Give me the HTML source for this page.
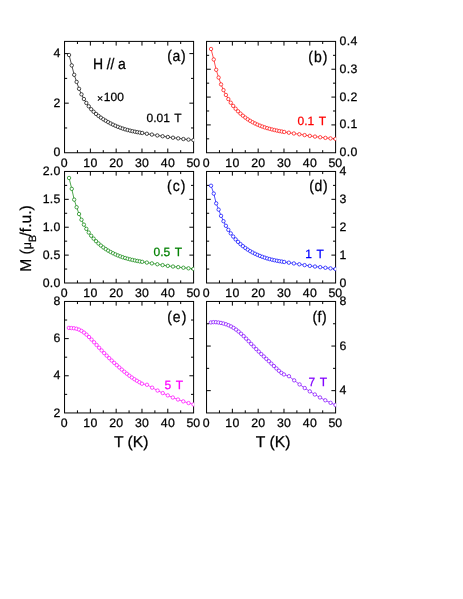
<!DOCTYPE html>
<html><head><meta charset="utf-8"><title>M(T)</title>
<style>
html,body{margin:0;padding:0;background:#fff;}
svg{display:block;will-change:transform;text-rendering:geometricPrecision;font-family:"Liberation Sans",sans-serif;}
</style></head>
<body>
<svg width="463" height="599" viewBox="0 0 463 599">
<rect width="463" height="599" fill="#fff"/>
<rect x="64.55" y="41.40" width="129.05" height="111.35" fill="none" stroke="#000" stroke-width="1.0"/>
<text x="64.25" y="167.00" font-size="12.3" text-anchor="middle" fill="#000" stroke="#000" stroke-width="0.25" letter-spacing="0.3">0</text>
<line x1="77.45" y1="152.75" x2="77.45" y2="150.15" stroke="#000" stroke-width="1.0"/>
<line x1="77.45" y1="41.40" x2="77.45" y2="44.00" stroke="#000" stroke-width="1.0"/>
<line x1="90.36" y1="152.75" x2="90.36" y2="148.55" stroke="#000" stroke-width="1.0"/>
<line x1="90.36" y1="41.40" x2="90.36" y2="45.60" stroke="#000" stroke-width="1.0"/>
<text x="90.51" y="167.00" font-size="12.3" text-anchor="middle" fill="#000" stroke="#000" stroke-width="0.25" letter-spacing="0.3">10</text>
<line x1="103.27" y1="152.75" x2="103.27" y2="150.15" stroke="#000" stroke-width="1.0"/>
<line x1="103.27" y1="41.40" x2="103.27" y2="44.00" stroke="#000" stroke-width="1.0"/>
<line x1="116.17" y1="152.75" x2="116.17" y2="148.55" stroke="#000" stroke-width="1.0"/>
<line x1="116.17" y1="41.40" x2="116.17" y2="45.60" stroke="#000" stroke-width="1.0"/>
<text x="116.32" y="167.00" font-size="12.3" text-anchor="middle" fill="#000" stroke="#000" stroke-width="0.25" letter-spacing="0.3">20</text>
<line x1="129.07" y1="152.75" x2="129.07" y2="150.15" stroke="#000" stroke-width="1.0"/>
<line x1="129.07" y1="41.40" x2="129.07" y2="44.00" stroke="#000" stroke-width="1.0"/>
<line x1="141.98" y1="152.75" x2="141.98" y2="148.55" stroke="#000" stroke-width="1.0"/>
<line x1="141.98" y1="41.40" x2="141.98" y2="45.60" stroke="#000" stroke-width="1.0"/>
<text x="142.13" y="167.00" font-size="12.3" text-anchor="middle" fill="#000" stroke="#000" stroke-width="0.25" letter-spacing="0.3">30</text>
<line x1="154.88" y1="152.75" x2="154.88" y2="150.15" stroke="#000" stroke-width="1.0"/>
<line x1="154.88" y1="41.40" x2="154.88" y2="44.00" stroke="#000" stroke-width="1.0"/>
<line x1="167.79" y1="152.75" x2="167.79" y2="148.55" stroke="#000" stroke-width="1.0"/>
<line x1="167.79" y1="41.40" x2="167.79" y2="45.60" stroke="#000" stroke-width="1.0"/>
<text x="167.94" y="167.00" font-size="12.3" text-anchor="middle" fill="#000" stroke="#000" stroke-width="0.25" letter-spacing="0.3">40</text>
<line x1="180.70" y1="152.75" x2="180.70" y2="150.15" stroke="#000" stroke-width="1.0"/>
<line x1="180.70" y1="41.40" x2="180.70" y2="44.00" stroke="#000" stroke-width="1.0"/>
<text x="193.30" y="167.00" font-size="12.3" text-anchor="middle" fill="#000" stroke="#000" stroke-width="0.25">50</text>
<text x="60.65" y="156.45" font-size="12.3" text-anchor="end" fill="#000" stroke="#000" stroke-width="0.25" letter-spacing="0.3">0</text>
<line x1="64.55" y1="103.17" x2="68.75" y2="103.17" stroke="#000" stroke-width="1.0"/>
<line x1="193.60" y1="103.17" x2="189.40" y2="103.17" stroke="#000" stroke-width="1.0"/>
<text x="60.65" y="106.87" font-size="12.3" text-anchor="end" fill="#000" stroke="#000" stroke-width="0.25" letter-spacing="0.3">2</text>
<line x1="64.55" y1="53.60" x2="68.75" y2="53.60" stroke="#000" stroke-width="1.0"/>
<line x1="193.60" y1="53.60" x2="189.40" y2="53.60" stroke="#000" stroke-width="1.0"/>
<text x="60.65" y="57.30" font-size="12.3" text-anchor="end" fill="#000" stroke="#000" stroke-width="0.25" letter-spacing="0.3">4</text>
<line x1="64.55" y1="127.96" x2="67.15" y2="127.96" stroke="#000" stroke-width="1.0"/>
<line x1="193.60" y1="127.96" x2="191.00" y2="127.96" stroke="#000" stroke-width="1.0"/>
<line x1="64.55" y1="78.38" x2="67.15" y2="78.38" stroke="#000" stroke-width="1.0"/>
<line x1="193.60" y1="78.38" x2="191.00" y2="78.38" stroke="#000" stroke-width="1.0"/>
<clipPath id="cpa"><rect x="64.05" y="40.90" width="130.05" height="112.35"/></clipPath>
<g clip-path="url(#cpa)">
<g stroke="#000000" fill="none" stroke-width="0.7">
<polyline points="69.05,54.99 71.76,65.43 74.19,74.81 76.62,81.93 79.05,88.80 81.48,94.36 83.90,99.02 86.33,102.96 88.76,106.32 91.19,109.22 93.62,111.74 96.05,113.95 98.48,115.91 100.91,117.67 103.34,119.28 105.76,120.77 108.19,122.16 110.62,123.46 113.05,124.67 115.48,125.79 117.91,126.81 120.34,127.74 122.77,128.58 125.20,129.34 127.63,130.02 130.05,130.64 132.48,131.19 134.91,131.69 137.34,132.15 139.77,132.58 142.20,132.99 146.85,133.75 151.89,134.58 157.32,135.45 162.61,136.25 167.81,136.99 173.00,137.70 178.19,138.38 183.41,139.03 188.50,139.61 193.49,140.11"/>
</g>
<g stroke="#000000" fill="#fff" stroke-width="0.7">
<circle cx="69.05" cy="54.99" r="1.7"/>
<circle cx="71.76" cy="65.43" r="1.7"/>
<circle cx="74.19" cy="74.81" r="1.7"/>
<circle cx="76.62" cy="81.93" r="1.7"/>
<circle cx="79.05" cy="88.80" r="1.7"/>
<circle cx="81.48" cy="94.36" r="1.7"/>
<circle cx="83.90" cy="99.02" r="1.7"/>
<circle cx="86.33" cy="102.96" r="1.7"/>
<circle cx="88.76" cy="106.32" r="1.7"/>
<circle cx="91.19" cy="109.22" r="1.7"/>
<circle cx="93.62" cy="111.74" r="1.7"/>
<circle cx="96.05" cy="113.95" r="1.7"/>
<circle cx="98.48" cy="115.91" r="1.7"/>
<circle cx="100.91" cy="117.67" r="1.7"/>
<circle cx="103.34" cy="119.28" r="1.7"/>
<circle cx="105.76" cy="120.77" r="1.7"/>
<circle cx="108.19" cy="122.16" r="1.7"/>
<circle cx="110.62" cy="123.46" r="1.7"/>
<circle cx="113.05" cy="124.67" r="1.7"/>
<circle cx="115.48" cy="125.79" r="1.7"/>
<circle cx="117.91" cy="126.81" r="1.7"/>
<circle cx="120.34" cy="127.74" r="1.7"/>
<circle cx="122.77" cy="128.58" r="1.7"/>
<circle cx="125.20" cy="129.34" r="1.7"/>
<circle cx="127.63" cy="130.02" r="1.7"/>
<circle cx="130.05" cy="130.64" r="1.7"/>
<circle cx="132.48" cy="131.19" r="1.7"/>
<circle cx="134.91" cy="131.69" r="1.7"/>
<circle cx="137.34" cy="132.15" r="1.7"/>
<circle cx="139.77" cy="132.58" r="1.7"/>
<circle cx="142.20" cy="132.99" r="1.7"/>
<circle cx="146.85" cy="133.75" r="1.7"/>
<circle cx="151.89" cy="134.58" r="1.7"/>
<circle cx="157.32" cy="135.45" r="1.7"/>
<circle cx="162.61" cy="136.25" r="1.7"/>
<circle cx="167.81" cy="136.99" r="1.7"/>
<circle cx="173.00" cy="137.70" r="1.7"/>
<circle cx="178.19" cy="138.38" r="1.7"/>
<circle cx="183.41" cy="139.03" r="1.7"/>
<circle cx="188.50" cy="139.61" r="1.7"/>
<circle cx="193.49" cy="140.11" r="1.7"/>
</g></g>
<rect x="206.55" y="41.40" width="129.05" height="111.35" fill="none" stroke="#000" stroke-width="1.0"/>
<text x="206.25" y="167.00" font-size="12.3" text-anchor="middle" fill="#000" stroke="#000" stroke-width="0.25" letter-spacing="0.3">0</text>
<line x1="219.46" y1="152.75" x2="219.46" y2="150.15" stroke="#000" stroke-width="1.0"/>
<line x1="219.46" y1="41.40" x2="219.46" y2="44.00" stroke="#000" stroke-width="1.0"/>
<line x1="232.36" y1="152.75" x2="232.36" y2="148.55" stroke="#000" stroke-width="1.0"/>
<line x1="232.36" y1="41.40" x2="232.36" y2="45.60" stroke="#000" stroke-width="1.0"/>
<text x="232.51" y="167.00" font-size="12.3" text-anchor="middle" fill="#000" stroke="#000" stroke-width="0.25" letter-spacing="0.3">10</text>
<line x1="245.27" y1="152.75" x2="245.27" y2="150.15" stroke="#000" stroke-width="1.0"/>
<line x1="245.27" y1="41.40" x2="245.27" y2="44.00" stroke="#000" stroke-width="1.0"/>
<line x1="258.17" y1="152.75" x2="258.17" y2="148.55" stroke="#000" stroke-width="1.0"/>
<line x1="258.17" y1="41.40" x2="258.17" y2="45.60" stroke="#000" stroke-width="1.0"/>
<text x="258.32" y="167.00" font-size="12.3" text-anchor="middle" fill="#000" stroke="#000" stroke-width="0.25" letter-spacing="0.3">20</text>
<line x1="271.08" y1="152.75" x2="271.08" y2="150.15" stroke="#000" stroke-width="1.0"/>
<line x1="271.08" y1="41.40" x2="271.08" y2="44.00" stroke="#000" stroke-width="1.0"/>
<line x1="283.98" y1="152.75" x2="283.98" y2="148.55" stroke="#000" stroke-width="1.0"/>
<line x1="283.98" y1="41.40" x2="283.98" y2="45.60" stroke="#000" stroke-width="1.0"/>
<text x="284.13" y="167.00" font-size="12.3" text-anchor="middle" fill="#000" stroke="#000" stroke-width="0.25" letter-spacing="0.3">30</text>
<line x1="296.88" y1="152.75" x2="296.88" y2="150.15" stroke="#000" stroke-width="1.0"/>
<line x1="296.88" y1="41.40" x2="296.88" y2="44.00" stroke="#000" stroke-width="1.0"/>
<line x1="309.79" y1="152.75" x2="309.79" y2="148.55" stroke="#000" stroke-width="1.0"/>
<line x1="309.79" y1="41.40" x2="309.79" y2="45.60" stroke="#000" stroke-width="1.0"/>
<text x="309.94" y="167.00" font-size="12.3" text-anchor="middle" fill="#000" stroke="#000" stroke-width="0.25" letter-spacing="0.3">40</text>
<line x1="322.70" y1="152.75" x2="322.70" y2="150.15" stroke="#000" stroke-width="1.0"/>
<line x1="322.70" y1="41.40" x2="322.70" y2="44.00" stroke="#000" stroke-width="1.0"/>
<text x="335.30" y="167.00" font-size="12.3" text-anchor="middle" fill="#000" stroke="#000" stroke-width="0.25">50</text>
<text x="339.60" y="156.25" font-size="12.3" text-anchor="start" fill="#000" stroke="#000" stroke-width="0.25" letter-spacing="0.3">0.0</text>
<line x1="206.55" y1="124.91" x2="210.75" y2="124.91" stroke="#000" stroke-width="1.0"/>
<line x1="335.60" y1="124.91" x2="331.40" y2="124.91" stroke="#000" stroke-width="1.0"/>
<text x="339.60" y="128.41" font-size="12.3" text-anchor="start" fill="#000" stroke="#000" stroke-width="0.25" letter-spacing="0.3">0.1</text>
<line x1="206.55" y1="97.08" x2="210.75" y2="97.08" stroke="#000" stroke-width="1.0"/>
<line x1="335.60" y1="97.08" x2="331.40" y2="97.08" stroke="#000" stroke-width="1.0"/>
<text x="339.60" y="100.58" font-size="12.3" text-anchor="start" fill="#000" stroke="#000" stroke-width="0.25" letter-spacing="0.3">0.2</text>
<line x1="206.55" y1="69.24" x2="210.75" y2="69.24" stroke="#000" stroke-width="1.0"/>
<line x1="335.60" y1="69.24" x2="331.40" y2="69.24" stroke="#000" stroke-width="1.0"/>
<text x="339.60" y="72.74" font-size="12.3" text-anchor="start" fill="#000" stroke="#000" stroke-width="0.25" letter-spacing="0.3">0.3</text>
<text x="339.60" y="44.90" font-size="12.3" text-anchor="start" fill="#000" stroke="#000" stroke-width="0.25" letter-spacing="0.3">0.4</text>
<line x1="206.55" y1="138.83" x2="209.15" y2="138.83" stroke="#000" stroke-width="1.0"/>
<line x1="335.60" y1="138.83" x2="333.00" y2="138.83" stroke="#000" stroke-width="1.0"/>
<line x1="206.55" y1="110.99" x2="209.15" y2="110.99" stroke="#000" stroke-width="1.0"/>
<line x1="335.60" y1="110.99" x2="333.00" y2="110.99" stroke="#000" stroke-width="1.0"/>
<line x1="206.55" y1="83.16" x2="209.15" y2="83.16" stroke="#000" stroke-width="1.0"/>
<line x1="335.60" y1="83.16" x2="333.00" y2="83.16" stroke="#000" stroke-width="1.0"/>
<line x1="206.55" y1="55.32" x2="209.15" y2="55.32" stroke="#000" stroke-width="1.0"/>
<line x1="335.60" y1="55.32" x2="333.00" y2="55.32" stroke="#000" stroke-width="1.0"/>
<clipPath id="cpb"><rect x="206.05" y="40.90" width="130.05" height="112.35"/></clipPath>
<g clip-path="url(#cpb)">
<g stroke="#ff0000" fill="none" stroke-width="0.7">
<polyline points="211.05,48.98 213.76,59.48 216.19,69.80 218.62,77.55 221.05,84.41 223.48,90.11 225.90,94.94 228.33,99.09 230.76,102.71 233.19,105.90 235.62,108.74 238.05,111.31 240.48,113.62 242.91,115.72 245.34,117.60 247.76,119.31 250.19,120.85 252.62,122.24 255.05,123.49 257.48,124.62 259.91,125.64 262.34,126.56 264.77,127.39 267.20,128.14 269.63,128.83 272.05,129.45 274.48,130.03 276.91,130.57 279.34,131.06 281.77,131.52 284.20,131.95 288.85,132.71 293.89,133.48 299.32,134.29 304.61,135.10 309.81,135.87 315.00,136.59 320.19,137.26 325.41,137.87 330.50,138.41 335.49,138.89"/>
</g>
<g stroke="#ff0000" fill="#fff" stroke-width="0.7">
<circle cx="211.05" cy="48.98" r="1.7"/>
<circle cx="213.76" cy="59.48" r="1.7"/>
<circle cx="216.19" cy="69.80" r="1.7"/>
<circle cx="218.62" cy="77.55" r="1.7"/>
<circle cx="221.05" cy="84.41" r="1.7"/>
<circle cx="223.48" cy="90.11" r="1.7"/>
<circle cx="225.90" cy="94.94" r="1.7"/>
<circle cx="228.33" cy="99.09" r="1.7"/>
<circle cx="230.76" cy="102.71" r="1.7"/>
<circle cx="233.19" cy="105.90" r="1.7"/>
<circle cx="235.62" cy="108.74" r="1.7"/>
<circle cx="238.05" cy="111.31" r="1.7"/>
<circle cx="240.48" cy="113.62" r="1.7"/>
<circle cx="242.91" cy="115.72" r="1.7"/>
<circle cx="245.34" cy="117.60" r="1.7"/>
<circle cx="247.76" cy="119.31" r="1.7"/>
<circle cx="250.19" cy="120.85" r="1.7"/>
<circle cx="252.62" cy="122.24" r="1.7"/>
<circle cx="255.05" cy="123.49" r="1.7"/>
<circle cx="257.48" cy="124.62" r="1.7"/>
<circle cx="259.91" cy="125.64" r="1.7"/>
<circle cx="262.34" cy="126.56" r="1.7"/>
<circle cx="264.77" cy="127.39" r="1.7"/>
<circle cx="267.20" cy="128.14" r="1.7"/>
<circle cx="269.63" cy="128.83" r="1.7"/>
<circle cx="272.05" cy="129.45" r="1.7"/>
<circle cx="274.48" cy="130.03" r="1.7"/>
<circle cx="276.91" cy="130.57" r="1.7"/>
<circle cx="279.34" cy="131.06" r="1.7"/>
<circle cx="281.77" cy="131.52" r="1.7"/>
<circle cx="284.20" cy="131.95" r="1.7"/>
<circle cx="288.85" cy="132.71" r="1.7"/>
<circle cx="293.89" cy="133.48" r="1.7"/>
<circle cx="299.32" cy="134.29" r="1.7"/>
<circle cx="304.61" cy="135.10" r="1.7"/>
<circle cx="309.81" cy="135.87" r="1.7"/>
<circle cx="315.00" cy="136.59" r="1.7"/>
<circle cx="320.19" cy="137.26" r="1.7"/>
<circle cx="325.41" cy="137.87" r="1.7"/>
<circle cx="330.50" cy="138.41" r="1.7"/>
<circle cx="335.49" cy="138.89" r="1.7"/>
</g></g>
<rect x="64.55" y="171.45" width="129.05" height="111.55" fill="none" stroke="#000" stroke-width="1.0"/>
<text x="64.25" y="297.00" font-size="12.3" text-anchor="middle" fill="#000" stroke="#000" stroke-width="0.25" letter-spacing="0.3">0</text>
<line x1="77.45" y1="283.00" x2="77.45" y2="280.40" stroke="#000" stroke-width="1.0"/>
<line x1="77.45" y1="171.45" x2="77.45" y2="174.05" stroke="#000" stroke-width="1.0"/>
<line x1="90.36" y1="283.00" x2="90.36" y2="278.80" stroke="#000" stroke-width="1.0"/>
<line x1="90.36" y1="171.45" x2="90.36" y2="175.65" stroke="#000" stroke-width="1.0"/>
<text x="90.51" y="297.00" font-size="12.3" text-anchor="middle" fill="#000" stroke="#000" stroke-width="0.25" letter-spacing="0.3">10</text>
<line x1="103.27" y1="283.00" x2="103.27" y2="280.40" stroke="#000" stroke-width="1.0"/>
<line x1="103.27" y1="171.45" x2="103.27" y2="174.05" stroke="#000" stroke-width="1.0"/>
<line x1="116.17" y1="283.00" x2="116.17" y2="278.80" stroke="#000" stroke-width="1.0"/>
<line x1="116.17" y1="171.45" x2="116.17" y2="175.65" stroke="#000" stroke-width="1.0"/>
<text x="116.32" y="297.00" font-size="12.3" text-anchor="middle" fill="#000" stroke="#000" stroke-width="0.25" letter-spacing="0.3">20</text>
<line x1="129.07" y1="283.00" x2="129.07" y2="280.40" stroke="#000" stroke-width="1.0"/>
<line x1="129.07" y1="171.45" x2="129.07" y2="174.05" stroke="#000" stroke-width="1.0"/>
<line x1="141.98" y1="283.00" x2="141.98" y2="278.80" stroke="#000" stroke-width="1.0"/>
<line x1="141.98" y1="171.45" x2="141.98" y2="175.65" stroke="#000" stroke-width="1.0"/>
<text x="142.13" y="297.00" font-size="12.3" text-anchor="middle" fill="#000" stroke="#000" stroke-width="0.25" letter-spacing="0.3">30</text>
<line x1="154.88" y1="283.00" x2="154.88" y2="280.40" stroke="#000" stroke-width="1.0"/>
<line x1="154.88" y1="171.45" x2="154.88" y2="174.05" stroke="#000" stroke-width="1.0"/>
<line x1="167.79" y1="283.00" x2="167.79" y2="278.80" stroke="#000" stroke-width="1.0"/>
<line x1="167.79" y1="171.45" x2="167.79" y2="175.65" stroke="#000" stroke-width="1.0"/>
<text x="167.94" y="297.00" font-size="12.3" text-anchor="middle" fill="#000" stroke="#000" stroke-width="0.25" letter-spacing="0.3">40</text>
<line x1="180.70" y1="283.00" x2="180.70" y2="280.40" stroke="#000" stroke-width="1.0"/>
<line x1="180.70" y1="171.45" x2="180.70" y2="174.05" stroke="#000" stroke-width="1.0"/>
<text x="193.30" y="297.00" font-size="12.3" text-anchor="middle" fill="#000" stroke="#000" stroke-width="0.25">50</text>
<text x="60.65" y="286.70" font-size="12.3" text-anchor="end" fill="#000" stroke="#000" stroke-width="0.25" letter-spacing="0.3">0.0</text>
<line x1="64.55" y1="255.11" x2="68.75" y2="255.11" stroke="#000" stroke-width="1.0"/>
<line x1="193.60" y1="255.11" x2="189.40" y2="255.11" stroke="#000" stroke-width="1.0"/>
<text x="60.65" y="258.81" font-size="12.3" text-anchor="end" fill="#000" stroke="#000" stroke-width="0.25" letter-spacing="0.3">0.5</text>
<line x1="64.55" y1="227.22" x2="68.75" y2="227.22" stroke="#000" stroke-width="1.0"/>
<line x1="193.60" y1="227.22" x2="189.40" y2="227.22" stroke="#000" stroke-width="1.0"/>
<text x="60.65" y="230.92" font-size="12.3" text-anchor="end" fill="#000" stroke="#000" stroke-width="0.25" letter-spacing="0.3">1.0</text>
<line x1="64.55" y1="199.34" x2="68.75" y2="199.34" stroke="#000" stroke-width="1.0"/>
<line x1="193.60" y1="199.34" x2="189.40" y2="199.34" stroke="#000" stroke-width="1.0"/>
<text x="60.65" y="203.04" font-size="12.3" text-anchor="end" fill="#000" stroke="#000" stroke-width="0.25" letter-spacing="0.3">1.5</text>
<text x="60.65" y="175.15" font-size="12.3" text-anchor="end" fill="#000" stroke="#000" stroke-width="0.25" letter-spacing="0.3">2.0</text>
<line x1="64.55" y1="269.06" x2="67.15" y2="269.06" stroke="#000" stroke-width="1.0"/>
<line x1="193.60" y1="269.06" x2="191.00" y2="269.06" stroke="#000" stroke-width="1.0"/>
<line x1="64.55" y1="241.17" x2="67.15" y2="241.17" stroke="#000" stroke-width="1.0"/>
<line x1="193.60" y1="241.17" x2="191.00" y2="241.17" stroke="#000" stroke-width="1.0"/>
<line x1="64.55" y1="213.28" x2="67.15" y2="213.28" stroke="#000" stroke-width="1.0"/>
<line x1="193.60" y1="213.28" x2="191.00" y2="213.28" stroke="#000" stroke-width="1.0"/>
<line x1="64.55" y1="185.39" x2="67.15" y2="185.39" stroke="#000" stroke-width="1.0"/>
<line x1="193.60" y1="185.39" x2="191.00" y2="185.39" stroke="#000" stroke-width="1.0"/>
<clipPath id="cpc"><rect x="64.05" y="170.95" width="130.05" height="112.55"/></clipPath>
<g clip-path="url(#cpc)">
<g stroke="#008000" fill="none" stroke-width="0.7">
<polyline points="69.05,177.96 71.76,188.87 74.19,199.64 76.62,207.22 79.05,214.03 81.48,219.76 83.90,224.65 86.33,228.86 88.76,232.54 91.19,235.77 93.62,238.63 96.05,241.20 98.48,243.50 100.91,245.56 103.34,247.43 105.76,249.11 108.19,250.63 110.62,252.01 113.05,253.27 115.48,254.41 117.91,255.45 120.34,256.39 122.77,257.25 125.20,258.03 127.63,258.73 130.05,259.37 132.48,259.95 134.91,260.47 137.34,260.96 139.77,261.40 142.20,261.83 146.85,262.58 151.89,263.39 157.32,264.27 162.61,265.12 167.81,265.88 173.00,266.54 178.19,267.15 183.41,267.73 188.50,268.31 193.49,268.90"/>
</g>
<g stroke="#008000" fill="#fff" stroke-width="0.7">
<circle cx="69.05" cy="177.96" r="1.7"/>
<circle cx="71.76" cy="188.87" r="1.7"/>
<circle cx="74.19" cy="199.64" r="1.7"/>
<circle cx="76.62" cy="207.22" r="1.7"/>
<circle cx="79.05" cy="214.03" r="1.7"/>
<circle cx="81.48" cy="219.76" r="1.7"/>
<circle cx="83.90" cy="224.65" r="1.7"/>
<circle cx="86.33" cy="228.86" r="1.7"/>
<circle cx="88.76" cy="232.54" r="1.7"/>
<circle cx="91.19" cy="235.77" r="1.7"/>
<circle cx="93.62" cy="238.63" r="1.7"/>
<circle cx="96.05" cy="241.20" r="1.7"/>
<circle cx="98.48" cy="243.50" r="1.7"/>
<circle cx="100.91" cy="245.56" r="1.7"/>
<circle cx="103.34" cy="247.43" r="1.7"/>
<circle cx="105.76" cy="249.11" r="1.7"/>
<circle cx="108.19" cy="250.63" r="1.7"/>
<circle cx="110.62" cy="252.01" r="1.7"/>
<circle cx="113.05" cy="253.27" r="1.7"/>
<circle cx="115.48" cy="254.41" r="1.7"/>
<circle cx="117.91" cy="255.45" r="1.7"/>
<circle cx="120.34" cy="256.39" r="1.7"/>
<circle cx="122.77" cy="257.25" r="1.7"/>
<circle cx="125.20" cy="258.03" r="1.7"/>
<circle cx="127.63" cy="258.73" r="1.7"/>
<circle cx="130.05" cy="259.37" r="1.7"/>
<circle cx="132.48" cy="259.95" r="1.7"/>
<circle cx="134.91" cy="260.47" r="1.7"/>
<circle cx="137.34" cy="260.96" r="1.7"/>
<circle cx="139.77" cy="261.40" r="1.7"/>
<circle cx="142.20" cy="261.83" r="1.7"/>
<circle cx="146.85" cy="262.58" r="1.7"/>
<circle cx="151.89" cy="263.39" r="1.7"/>
<circle cx="157.32" cy="264.27" r="1.7"/>
<circle cx="162.61" cy="265.12" r="1.7"/>
<circle cx="167.81" cy="265.88" r="1.7"/>
<circle cx="173.00" cy="266.54" r="1.7"/>
<circle cx="178.19" cy="267.15" r="1.7"/>
<circle cx="183.41" cy="267.73" r="1.7"/>
<circle cx="188.50" cy="268.31" r="1.7"/>
<circle cx="193.49" cy="268.90" r="1.7"/>
</g></g>
<rect x="206.55" y="171.45" width="129.05" height="111.55" fill="none" stroke="#000" stroke-width="1.0"/>
<text x="206.25" y="297.00" font-size="12.3" text-anchor="middle" fill="#000" stroke="#000" stroke-width="0.25" letter-spacing="0.3">0</text>
<line x1="219.46" y1="283.00" x2="219.46" y2="280.40" stroke="#000" stroke-width="1.0"/>
<line x1="219.46" y1="171.45" x2="219.46" y2="174.05" stroke="#000" stroke-width="1.0"/>
<line x1="232.36" y1="283.00" x2="232.36" y2="278.80" stroke="#000" stroke-width="1.0"/>
<line x1="232.36" y1="171.45" x2="232.36" y2="175.65" stroke="#000" stroke-width="1.0"/>
<text x="232.51" y="297.00" font-size="12.3" text-anchor="middle" fill="#000" stroke="#000" stroke-width="0.25" letter-spacing="0.3">10</text>
<line x1="245.27" y1="283.00" x2="245.27" y2="280.40" stroke="#000" stroke-width="1.0"/>
<line x1="245.27" y1="171.45" x2="245.27" y2="174.05" stroke="#000" stroke-width="1.0"/>
<line x1="258.17" y1="283.00" x2="258.17" y2="278.80" stroke="#000" stroke-width="1.0"/>
<line x1="258.17" y1="171.45" x2="258.17" y2="175.65" stroke="#000" stroke-width="1.0"/>
<text x="258.32" y="297.00" font-size="12.3" text-anchor="middle" fill="#000" stroke="#000" stroke-width="0.25" letter-spacing="0.3">20</text>
<line x1="271.08" y1="283.00" x2="271.08" y2="280.40" stroke="#000" stroke-width="1.0"/>
<line x1="271.08" y1="171.45" x2="271.08" y2="174.05" stroke="#000" stroke-width="1.0"/>
<line x1="283.98" y1="283.00" x2="283.98" y2="278.80" stroke="#000" stroke-width="1.0"/>
<line x1="283.98" y1="171.45" x2="283.98" y2="175.65" stroke="#000" stroke-width="1.0"/>
<text x="284.13" y="297.00" font-size="12.3" text-anchor="middle" fill="#000" stroke="#000" stroke-width="0.25" letter-spacing="0.3">30</text>
<line x1="296.88" y1="283.00" x2="296.88" y2="280.40" stroke="#000" stroke-width="1.0"/>
<line x1="296.88" y1="171.45" x2="296.88" y2="174.05" stroke="#000" stroke-width="1.0"/>
<line x1="309.79" y1="283.00" x2="309.79" y2="278.80" stroke="#000" stroke-width="1.0"/>
<line x1="309.79" y1="171.45" x2="309.79" y2="175.65" stroke="#000" stroke-width="1.0"/>
<text x="309.94" y="297.00" font-size="12.3" text-anchor="middle" fill="#000" stroke="#000" stroke-width="0.25" letter-spacing="0.3">40</text>
<line x1="322.70" y1="283.00" x2="322.70" y2="280.40" stroke="#000" stroke-width="1.0"/>
<line x1="322.70" y1="171.45" x2="322.70" y2="174.05" stroke="#000" stroke-width="1.0"/>
<text x="335.30" y="297.00" font-size="12.3" text-anchor="middle" fill="#000" stroke="#000" stroke-width="0.25">50</text>
<text x="339.60" y="286.50" font-size="12.3" text-anchor="start" fill="#000" stroke="#000" stroke-width="0.25" letter-spacing="0.3">0</text>
<line x1="206.55" y1="255.11" x2="210.75" y2="255.11" stroke="#000" stroke-width="1.0"/>
<line x1="335.60" y1="255.11" x2="331.40" y2="255.11" stroke="#000" stroke-width="1.0"/>
<text x="339.60" y="258.61" font-size="12.3" text-anchor="start" fill="#000" stroke="#000" stroke-width="0.25" letter-spacing="0.3">1</text>
<line x1="206.55" y1="227.22" x2="210.75" y2="227.22" stroke="#000" stroke-width="1.0"/>
<line x1="335.60" y1="227.22" x2="331.40" y2="227.22" stroke="#000" stroke-width="1.0"/>
<text x="339.60" y="230.72" font-size="12.3" text-anchor="start" fill="#000" stroke="#000" stroke-width="0.25" letter-spacing="0.3">2</text>
<line x1="206.55" y1="199.34" x2="210.75" y2="199.34" stroke="#000" stroke-width="1.0"/>
<line x1="335.60" y1="199.34" x2="331.40" y2="199.34" stroke="#000" stroke-width="1.0"/>
<text x="339.60" y="202.84" font-size="12.3" text-anchor="start" fill="#000" stroke="#000" stroke-width="0.25" letter-spacing="0.3">3</text>
<text x="339.60" y="174.95" font-size="12.3" text-anchor="start" fill="#000" stroke="#000" stroke-width="0.25" letter-spacing="0.3">4</text>
<line x1="206.55" y1="269.06" x2="209.15" y2="269.06" stroke="#000" stroke-width="1.0"/>
<line x1="335.60" y1="269.06" x2="333.00" y2="269.06" stroke="#000" stroke-width="1.0"/>
<line x1="206.55" y1="241.17" x2="209.15" y2="241.17" stroke="#000" stroke-width="1.0"/>
<line x1="335.60" y1="241.17" x2="333.00" y2="241.17" stroke="#000" stroke-width="1.0"/>
<line x1="206.55" y1="213.28" x2="209.15" y2="213.28" stroke="#000" stroke-width="1.0"/>
<line x1="335.60" y1="213.28" x2="333.00" y2="213.28" stroke="#000" stroke-width="1.0"/>
<line x1="206.55" y1="185.39" x2="209.15" y2="185.39" stroke="#000" stroke-width="1.0"/>
<line x1="335.60" y1="185.39" x2="333.00" y2="185.39" stroke="#000" stroke-width="1.0"/>
<clipPath id="cpd"><rect x="206.05" y="170.95" width="130.05" height="112.55"/></clipPath>
<g clip-path="url(#cpd)">
<g stroke="#0000ff" fill="none" stroke-width="0.7">
<polyline points="211.05,185.74 213.76,193.58 216.19,203.38 218.62,209.61 221.05,215.85 223.48,221.19 225.90,225.81 228.33,229.85 230.76,233.40 233.19,236.55 235.62,239.35 238.05,241.87 240.48,244.13 242.91,246.16 245.34,248.00 247.76,249.66 250.19,251.16 252.62,252.53 255.05,253.76 257.48,254.89 259.91,255.91 262.34,256.83 264.77,257.67 267.20,258.43 269.63,259.11 272.05,259.72 274.48,260.25 276.91,260.73 279.34,261.17 281.77,261.57 284.20,261.96 288.85,262.67 293.89,263.44 299.32,264.30 304.61,265.13 309.81,265.88 315.00,266.54 320.19,267.16 325.41,267.78 330.50,268.40 335.49,269.04"/>
</g>
<g stroke="#0000ff" fill="#fff" stroke-width="0.7">
<circle cx="211.05" cy="185.74" r="1.7"/>
<circle cx="213.76" cy="193.58" r="1.7"/>
<circle cx="216.19" cy="203.38" r="1.7"/>
<circle cx="218.62" cy="209.61" r="1.7"/>
<circle cx="221.05" cy="215.85" r="1.7"/>
<circle cx="223.48" cy="221.19" r="1.7"/>
<circle cx="225.90" cy="225.81" r="1.7"/>
<circle cx="228.33" cy="229.85" r="1.7"/>
<circle cx="230.76" cy="233.40" r="1.7"/>
<circle cx="233.19" cy="236.55" r="1.7"/>
<circle cx="235.62" cy="239.35" r="1.7"/>
<circle cx="238.05" cy="241.87" r="1.7"/>
<circle cx="240.48" cy="244.13" r="1.7"/>
<circle cx="242.91" cy="246.16" r="1.7"/>
<circle cx="245.34" cy="248.00" r="1.7"/>
<circle cx="247.76" cy="249.66" r="1.7"/>
<circle cx="250.19" cy="251.16" r="1.7"/>
<circle cx="252.62" cy="252.53" r="1.7"/>
<circle cx="255.05" cy="253.76" r="1.7"/>
<circle cx="257.48" cy="254.89" r="1.7"/>
<circle cx="259.91" cy="255.91" r="1.7"/>
<circle cx="262.34" cy="256.83" r="1.7"/>
<circle cx="264.77" cy="257.67" r="1.7"/>
<circle cx="267.20" cy="258.43" r="1.7"/>
<circle cx="269.63" cy="259.11" r="1.7"/>
<circle cx="272.05" cy="259.72" r="1.7"/>
<circle cx="274.48" cy="260.25" r="1.7"/>
<circle cx="276.91" cy="260.73" r="1.7"/>
<circle cx="279.34" cy="261.17" r="1.7"/>
<circle cx="281.77" cy="261.57" r="1.7"/>
<circle cx="284.20" cy="261.96" r="1.7"/>
<circle cx="288.85" cy="262.67" r="1.7"/>
<circle cx="293.89" cy="263.44" r="1.7"/>
<circle cx="299.32" cy="264.30" r="1.7"/>
<circle cx="304.61" cy="265.13" r="1.7"/>
<circle cx="309.81" cy="265.88" r="1.7"/>
<circle cx="315.00" cy="266.54" r="1.7"/>
<circle cx="320.19" cy="267.16" r="1.7"/>
<circle cx="325.41" cy="267.78" r="1.7"/>
<circle cx="330.50" cy="268.40" r="1.7"/>
<circle cx="335.49" cy="269.04" r="1.7"/>
</g></g>
<rect x="64.55" y="301.45" width="129.05" height="111.50" fill="none" stroke="#000" stroke-width="1.0"/>
<text x="64.25" y="427.20" font-size="12.3" text-anchor="middle" fill="#000" stroke="#000" stroke-width="0.25" letter-spacing="0.3">0</text>
<line x1="77.45" y1="412.95" x2="77.45" y2="410.35" stroke="#000" stroke-width="1.0"/>
<line x1="77.45" y1="301.45" x2="77.45" y2="304.05" stroke="#000" stroke-width="1.0"/>
<line x1="90.36" y1="412.95" x2="90.36" y2="408.75" stroke="#000" stroke-width="1.0"/>
<line x1="90.36" y1="301.45" x2="90.36" y2="305.65" stroke="#000" stroke-width="1.0"/>
<text x="90.51" y="427.20" font-size="12.3" text-anchor="middle" fill="#000" stroke="#000" stroke-width="0.25" letter-spacing="0.3">10</text>
<line x1="103.27" y1="412.95" x2="103.27" y2="410.35" stroke="#000" stroke-width="1.0"/>
<line x1="103.27" y1="301.45" x2="103.27" y2="304.05" stroke="#000" stroke-width="1.0"/>
<line x1="116.17" y1="412.95" x2="116.17" y2="408.75" stroke="#000" stroke-width="1.0"/>
<line x1="116.17" y1="301.45" x2="116.17" y2="305.65" stroke="#000" stroke-width="1.0"/>
<text x="116.32" y="427.20" font-size="12.3" text-anchor="middle" fill="#000" stroke="#000" stroke-width="0.25" letter-spacing="0.3">20</text>
<line x1="129.07" y1="412.95" x2="129.07" y2="410.35" stroke="#000" stroke-width="1.0"/>
<line x1="129.07" y1="301.45" x2="129.07" y2="304.05" stroke="#000" stroke-width="1.0"/>
<line x1="141.98" y1="412.95" x2="141.98" y2="408.75" stroke="#000" stroke-width="1.0"/>
<line x1="141.98" y1="301.45" x2="141.98" y2="305.65" stroke="#000" stroke-width="1.0"/>
<text x="142.13" y="427.20" font-size="12.3" text-anchor="middle" fill="#000" stroke="#000" stroke-width="0.25" letter-spacing="0.3">30</text>
<line x1="154.88" y1="412.95" x2="154.88" y2="410.35" stroke="#000" stroke-width="1.0"/>
<line x1="154.88" y1="301.45" x2="154.88" y2="304.05" stroke="#000" stroke-width="1.0"/>
<line x1="167.79" y1="412.95" x2="167.79" y2="408.75" stroke="#000" stroke-width="1.0"/>
<line x1="167.79" y1="301.45" x2="167.79" y2="305.65" stroke="#000" stroke-width="1.0"/>
<text x="167.94" y="427.20" font-size="12.3" text-anchor="middle" fill="#000" stroke="#000" stroke-width="0.25" letter-spacing="0.3">40</text>
<line x1="180.70" y1="412.95" x2="180.70" y2="410.35" stroke="#000" stroke-width="1.0"/>
<line x1="180.70" y1="301.45" x2="180.70" y2="304.05" stroke="#000" stroke-width="1.0"/>
<text x="193.30" y="427.20" font-size="12.3" text-anchor="middle" fill="#000" stroke="#000" stroke-width="0.25">50</text>
<text x="60.65" y="416.65" font-size="12.3" text-anchor="end" fill="#000" stroke="#000" stroke-width="0.25" letter-spacing="0.3">2</text>
<line x1="64.55" y1="375.78" x2="68.75" y2="375.78" stroke="#000" stroke-width="1.0"/>
<line x1="193.60" y1="375.78" x2="189.40" y2="375.78" stroke="#000" stroke-width="1.0"/>
<text x="60.65" y="379.48" font-size="12.3" text-anchor="end" fill="#000" stroke="#000" stroke-width="0.25" letter-spacing="0.3">4</text>
<line x1="64.55" y1="338.62" x2="68.75" y2="338.62" stroke="#000" stroke-width="1.0"/>
<line x1="193.60" y1="338.62" x2="189.40" y2="338.62" stroke="#000" stroke-width="1.0"/>
<text x="60.65" y="342.32" font-size="12.3" text-anchor="end" fill="#000" stroke="#000" stroke-width="0.25" letter-spacing="0.3">6</text>
<text x="60.65" y="305.15" font-size="12.3" text-anchor="end" fill="#000" stroke="#000" stroke-width="0.25" letter-spacing="0.3">8</text>
<line x1="64.55" y1="394.37" x2="67.15" y2="394.37" stroke="#000" stroke-width="1.0"/>
<line x1="193.60" y1="394.37" x2="191.00" y2="394.37" stroke="#000" stroke-width="1.0"/>
<line x1="64.55" y1="357.20" x2="67.15" y2="357.20" stroke="#000" stroke-width="1.0"/>
<line x1="193.60" y1="357.20" x2="191.00" y2="357.20" stroke="#000" stroke-width="1.0"/>
<line x1="64.55" y1="320.03" x2="67.15" y2="320.03" stroke="#000" stroke-width="1.0"/>
<line x1="193.60" y1="320.03" x2="191.00" y2="320.03" stroke="#000" stroke-width="1.0"/>
<clipPath id="cpe"><rect x="64.05" y="300.95" width="130.05" height="112.50"/></clipPath>
<g clip-path="url(#cpe)">
<g stroke="#ff00ff" fill="none" stroke-width="0.7">
<polyline points="68.89,327.89 71.41,328.07 73.93,328.27 76.45,328.73 78.97,329.59 81.49,330.88 84.01,332.59 86.53,334.66 89.05,337.02 91.57,339.58 94.09,342.27 96.60,345.02 99.12,347.76 101.64,350.47 104.16,353.11 106.68,355.66 109.20,358.14 111.72,360.55 114.24,362.89 116.76,365.18 119.28,367.41 121.80,369.60 124.32,371.72 126.84,373.76 129.36,375.71 131.88,377.53 134.40,379.22 136.91,380.78 139.43,382.24 141.95,383.71 146.98,384.76 152.15,387.67 157.57,390.54 162.74,393.08 167.78,395.38 172.82,397.51 177.99,399.52 183.28,401.39 188.58,403.06 193.49,404.45"/>
</g>
<g stroke="#ff00ff" fill="#fff" stroke-width="0.7">
<circle cx="68.89" cy="327.89" r="1.7"/>
<circle cx="71.41" cy="328.07" r="1.7"/>
<circle cx="73.93" cy="328.27" r="1.7"/>
<circle cx="76.45" cy="328.73" r="1.7"/>
<circle cx="78.97" cy="329.59" r="1.7"/>
<circle cx="81.49" cy="330.88" r="1.7"/>
<circle cx="84.01" cy="332.59" r="1.7"/>
<circle cx="86.53" cy="334.66" r="1.7"/>
<circle cx="89.05" cy="337.02" r="1.7"/>
<circle cx="91.57" cy="339.58" r="1.7"/>
<circle cx="94.09" cy="342.27" r="1.7"/>
<circle cx="96.60" cy="345.02" r="1.7"/>
<circle cx="99.12" cy="347.76" r="1.7"/>
<circle cx="101.64" cy="350.47" r="1.7"/>
<circle cx="104.16" cy="353.11" r="1.7"/>
<circle cx="106.68" cy="355.66" r="1.7"/>
<circle cx="109.20" cy="358.14" r="1.7"/>
<circle cx="111.72" cy="360.55" r="1.7"/>
<circle cx="114.24" cy="362.89" r="1.7"/>
<circle cx="116.76" cy="365.18" r="1.7"/>
<circle cx="119.28" cy="367.41" r="1.7"/>
<circle cx="121.80" cy="369.60" r="1.7"/>
<circle cx="124.32" cy="371.72" r="1.7"/>
<circle cx="126.84" cy="373.76" r="1.7"/>
<circle cx="129.36" cy="375.71" r="1.7"/>
<circle cx="131.88" cy="377.53" r="1.7"/>
<circle cx="134.40" cy="379.22" r="1.7"/>
<circle cx="136.91" cy="380.78" r="1.7"/>
<circle cx="139.43" cy="382.24" r="1.7"/>
<circle cx="141.95" cy="383.71" r="1.7"/>
<circle cx="146.98" cy="384.76" r="1.7"/>
<circle cx="152.15" cy="387.67" r="1.7"/>
<circle cx="157.57" cy="390.54" r="1.7"/>
<circle cx="162.74" cy="393.08" r="1.7"/>
<circle cx="167.78" cy="395.38" r="1.7"/>
<circle cx="172.82" cy="397.51" r="1.7"/>
<circle cx="177.99" cy="399.52" r="1.7"/>
<circle cx="183.28" cy="401.39" r="1.7"/>
<circle cx="188.58" cy="403.06" r="1.7"/>
<circle cx="193.49" cy="404.45" r="1.7"/>
</g></g>
<rect x="206.55" y="301.45" width="129.05" height="111.50" fill="none" stroke="#000" stroke-width="1.0"/>
<text x="206.25" y="427.20" font-size="12.3" text-anchor="middle" fill="#000" stroke="#000" stroke-width="0.25" letter-spacing="0.3">0</text>
<line x1="219.46" y1="412.95" x2="219.46" y2="410.35" stroke="#000" stroke-width="1.0"/>
<line x1="219.46" y1="301.45" x2="219.46" y2="304.05" stroke="#000" stroke-width="1.0"/>
<line x1="232.36" y1="412.95" x2="232.36" y2="408.75" stroke="#000" stroke-width="1.0"/>
<line x1="232.36" y1="301.45" x2="232.36" y2="305.65" stroke="#000" stroke-width="1.0"/>
<text x="232.51" y="427.20" font-size="12.3" text-anchor="middle" fill="#000" stroke="#000" stroke-width="0.25" letter-spacing="0.3">10</text>
<line x1="245.27" y1="412.95" x2="245.27" y2="410.35" stroke="#000" stroke-width="1.0"/>
<line x1="245.27" y1="301.45" x2="245.27" y2="304.05" stroke="#000" stroke-width="1.0"/>
<line x1="258.17" y1="412.95" x2="258.17" y2="408.75" stroke="#000" stroke-width="1.0"/>
<line x1="258.17" y1="301.45" x2="258.17" y2="305.65" stroke="#000" stroke-width="1.0"/>
<text x="258.32" y="427.20" font-size="12.3" text-anchor="middle" fill="#000" stroke="#000" stroke-width="0.25" letter-spacing="0.3">20</text>
<line x1="271.08" y1="412.95" x2="271.08" y2="410.35" stroke="#000" stroke-width="1.0"/>
<line x1="271.08" y1="301.45" x2="271.08" y2="304.05" stroke="#000" stroke-width="1.0"/>
<line x1="283.98" y1="412.95" x2="283.98" y2="408.75" stroke="#000" stroke-width="1.0"/>
<line x1="283.98" y1="301.45" x2="283.98" y2="305.65" stroke="#000" stroke-width="1.0"/>
<text x="284.13" y="427.20" font-size="12.3" text-anchor="middle" fill="#000" stroke="#000" stroke-width="0.25" letter-spacing="0.3">30</text>
<line x1="296.88" y1="412.95" x2="296.88" y2="410.35" stroke="#000" stroke-width="1.0"/>
<line x1="296.88" y1="301.45" x2="296.88" y2="304.05" stroke="#000" stroke-width="1.0"/>
<line x1="309.79" y1="412.95" x2="309.79" y2="408.75" stroke="#000" stroke-width="1.0"/>
<line x1="309.79" y1="301.45" x2="309.79" y2="305.65" stroke="#000" stroke-width="1.0"/>
<text x="309.94" y="427.20" font-size="12.3" text-anchor="middle" fill="#000" stroke="#000" stroke-width="0.25" letter-spacing="0.3">40</text>
<line x1="322.70" y1="412.95" x2="322.70" y2="410.35" stroke="#000" stroke-width="1.0"/>
<line x1="322.70" y1="301.45" x2="322.70" y2="304.05" stroke="#000" stroke-width="1.0"/>
<text x="335.30" y="427.20" font-size="12.3" text-anchor="middle" fill="#000" stroke="#000" stroke-width="0.25">50</text>
<line x1="206.55" y1="390.65" x2="210.75" y2="390.65" stroke="#000" stroke-width="1.0"/>
<line x1="335.60" y1="390.65" x2="331.40" y2="390.65" stroke="#000" stroke-width="1.0"/>
<text x="339.60" y="394.15" font-size="12.3" text-anchor="start" fill="#000" stroke="#000" stroke-width="0.25" letter-spacing="0.3">4</text>
<line x1="206.55" y1="346.05" x2="210.75" y2="346.05" stroke="#000" stroke-width="1.0"/>
<line x1="335.60" y1="346.05" x2="331.40" y2="346.05" stroke="#000" stroke-width="1.0"/>
<text x="339.60" y="349.55" font-size="12.3" text-anchor="start" fill="#000" stroke="#000" stroke-width="0.25" letter-spacing="0.3">6</text>
<text x="339.60" y="304.95" font-size="12.3" text-anchor="start" fill="#000" stroke="#000" stroke-width="0.25" letter-spacing="0.3">8</text>
<line x1="206.55" y1="368.35" x2="209.15" y2="368.35" stroke="#000" stroke-width="1.0"/>
<line x1="335.60" y1="368.35" x2="333.00" y2="368.35" stroke="#000" stroke-width="1.0"/>
<line x1="206.55" y1="323.75" x2="209.15" y2="323.75" stroke="#000" stroke-width="1.0"/>
<line x1="335.60" y1="323.75" x2="333.00" y2="323.75" stroke="#000" stroke-width="1.0"/>
<clipPath id="cpf"><rect x="206.05" y="300.95" width="130.05" height="112.50"/></clipPath>
<g clip-path="url(#cpf)">
<g stroke="#8000ff" fill="none" stroke-width="0.7">
<polyline points="210.89,322.44 213.41,322.16 215.93,322.22 218.45,322.49 220.97,322.93 223.49,323.52 226.01,324.28 228.53,325.25 231.05,326.45 233.57,327.90 236.09,329.62 238.60,331.58 241.12,333.77 243.64,336.14 246.16,338.65 248.68,341.25 251.20,343.89 253.72,346.51 256.24,349.10 258.76,351.62 261.28,354.08 263.80,356.48 266.32,358.84 268.84,361.20 271.36,363.59 273.88,366.01 276.40,368.43 278.91,370.78 281.43,372.89 283.95,374.46 288.98,376.22 294.15,380.33 299.57,384.40 304.74,388.04 309.78,391.37 314.82,394.48 319.99,397.46 325.28,400.27 330.58,402.84 335.49,405.01"/>
</g>
<g stroke="#8000ff" fill="#fff" stroke-width="0.7">
<circle cx="210.89" cy="322.44" r="1.7"/>
<circle cx="213.41" cy="322.16" r="1.7"/>
<circle cx="215.93" cy="322.22" r="1.7"/>
<circle cx="218.45" cy="322.49" r="1.7"/>
<circle cx="220.97" cy="322.93" r="1.7"/>
<circle cx="223.49" cy="323.52" r="1.7"/>
<circle cx="226.01" cy="324.28" r="1.7"/>
<circle cx="228.53" cy="325.25" r="1.7"/>
<circle cx="231.05" cy="326.45" r="1.7"/>
<circle cx="233.57" cy="327.90" r="1.7"/>
<circle cx="236.09" cy="329.62" r="1.7"/>
<circle cx="238.60" cy="331.58" r="1.7"/>
<circle cx="241.12" cy="333.77" r="1.7"/>
<circle cx="243.64" cy="336.14" r="1.7"/>
<circle cx="246.16" cy="338.65" r="1.7"/>
<circle cx="248.68" cy="341.25" r="1.7"/>
<circle cx="251.20" cy="343.89" r="1.7"/>
<circle cx="253.72" cy="346.51" r="1.7"/>
<circle cx="256.24" cy="349.10" r="1.7"/>
<circle cx="258.76" cy="351.62" r="1.7"/>
<circle cx="261.28" cy="354.08" r="1.7"/>
<circle cx="263.80" cy="356.48" r="1.7"/>
<circle cx="266.32" cy="358.84" r="1.7"/>
<circle cx="268.84" cy="361.20" r="1.7"/>
<circle cx="271.36" cy="363.59" r="1.7"/>
<circle cx="273.88" cy="366.01" r="1.7"/>
<circle cx="276.40" cy="368.43" r="1.7"/>
<circle cx="278.91" cy="370.78" r="1.7"/>
<circle cx="281.43" cy="372.89" r="1.7"/>
<circle cx="283.95" cy="374.46" r="1.7"/>
<circle cx="288.98" cy="376.22" r="1.7"/>
<circle cx="294.15" cy="380.33" r="1.7"/>
<circle cx="299.57" cy="384.40" r="1.7"/>
<circle cx="304.74" cy="388.04" r="1.7"/>
<circle cx="309.78" cy="391.37" r="1.7"/>
<circle cx="314.82" cy="394.48" r="1.7"/>
<circle cx="319.99" cy="397.46" r="1.7"/>
<circle cx="325.28" cy="400.27" r="1.7"/>
<circle cx="330.58" cy="402.84" r="1.7"/>
<circle cx="335.49" cy="405.01" r="1.7"/>
</g></g>
<text transform="translate(176.75,60.95) scale(1,1.1)" font-size="14" text-anchor="middle" fill="#000" stroke="#000" stroke-width="0.25" letter-spacing="0.65">(a)</text>
<text transform="translate(318.35,61.95) scale(1,1.1)" font-size="14" text-anchor="middle" fill="#000" stroke="#000" stroke-width="0.25" letter-spacing="1.0">(b)</text>
<text transform="translate(176.75,191.25) scale(1,1.1)" font-size="14" text-anchor="middle" fill="#000" stroke="#000" stroke-width="0.25" letter-spacing="1.0">(c)</text>
<text transform="translate(318.75,191.05) scale(1,1.1)" font-size="14" text-anchor="middle" fill="#000" stroke="#000" stroke-width="0.25" letter-spacing="0.6">(d)</text>
<text transform="translate(177.25,322.05) scale(1,1.1)" font-size="14" text-anchor="middle" fill="#000" stroke="#000" stroke-width="0.25" letter-spacing="1.0">(e)</text>
<text transform="translate(319.72,321.75) scale(1,1.1)" font-size="14" text-anchor="middle" fill="#000" stroke="#000" stroke-width="0.25" letter-spacing="0.45">(f)</text>
<text transform="translate(93.0,68.8) scale(1,1.09)" font-size="14" text-anchor="start" fill="#000" stroke="#000" stroke-width="0.25" word-spacing="-0.3">H // a</text>
<text x="97.00" y="101.20" font-size="12.0" text-anchor="start" fill="#000" stroke="#000" stroke-width="0.25"><tspan font-size="10.6" dy="1.2">×</tspan><tspan dy="-1.2" dx="0.5" letter-spacing="0.05">100</tspan></text>
<text x="146.50" y="121.80" font-size="12" text-anchor="start" fill="#000" stroke="#000" stroke-width="0.25" word-spacing="1.4">0.01 T</text>
<text x="297.60" y="124.80" font-size="12" text-anchor="start" fill="#ff0000" stroke="#ff0000" stroke-width="0.25" word-spacing="1.4">0.1 T</text>
<text x="153.50" y="255.70" font-size="12" text-anchor="start" fill="#008000" stroke="#008000" stroke-width="0.25" word-spacing="1.4">0.5 T</text>
<text x="305.30" y="257.60" font-size="12" text-anchor="start" fill="#0000ff" stroke="#0000ff" stroke-width="0.25" word-spacing="1.4">1 T</text>
<text x="164.60" y="388.60" font-size="12" text-anchor="start" fill="#ff00ff" stroke="#ff00ff" stroke-width="0.25" word-spacing="1.4">5 T</text>
<text x="308.60" y="385.50" font-size="12" text-anchor="start" fill="#8000ff" stroke="#8000ff" stroke-width="0.25" word-spacing="1.4">7 T</text>
<text x="131.20" y="447.30" font-size="15.7" text-anchor="middle" fill="#000" stroke="#000" stroke-width="0.25">T (K)</text>
<text x="273.10" y="447.30" font-size="15.7" text-anchor="middle" fill="#000" stroke="#000" stroke-width="0.25">T (K)</text>
<text transform="translate(30.7,271.8) rotate(-90)" font-size="15.6" text-anchor="start" fill="#000" stroke="#000" stroke-width="0.25">M (<tspan font-size="12.5">μ</tspan><tspan font-size="10.5" dy="5.5">B</tspan><tspan dy="-5.5" dx="-1.4">/f.u.)</tspan></text>
</svg>
</body></html>
